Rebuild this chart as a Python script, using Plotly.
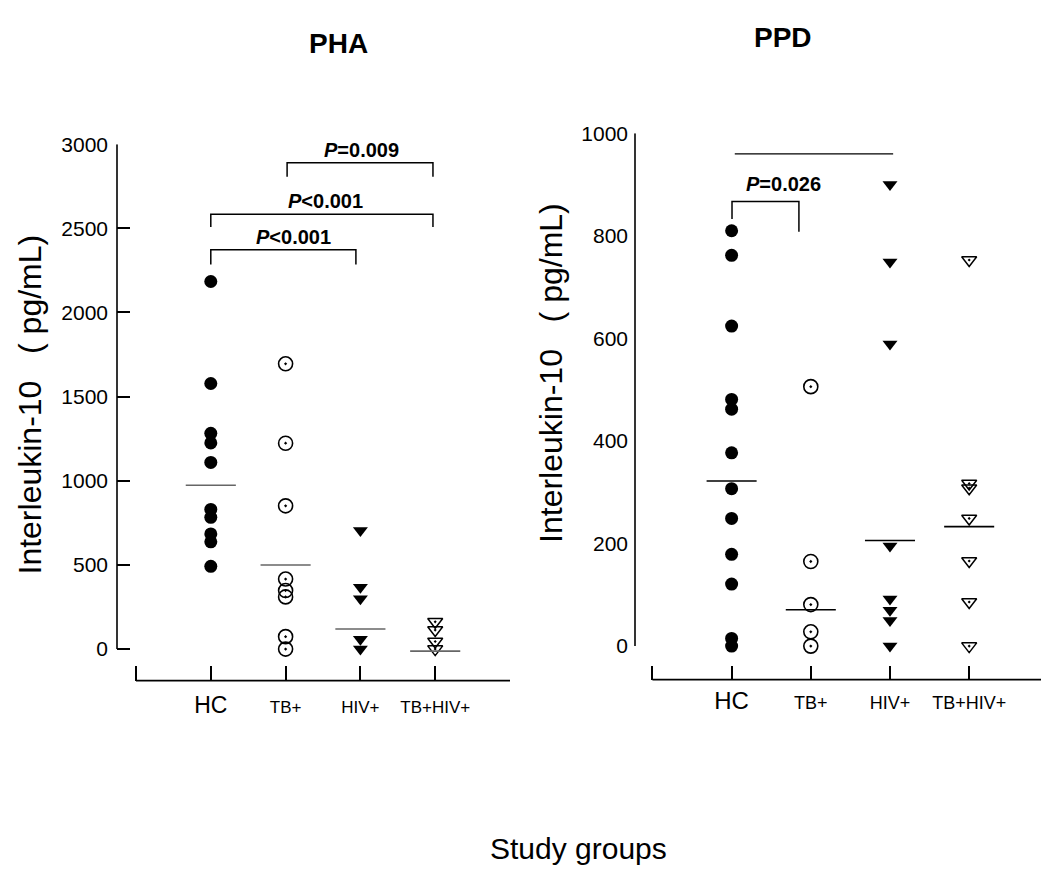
import plotly.graph_objects as go

W, H = 1041, 870

# ---------------- data ----------------
groups = ["HC", "TB+", "HIV+", "TB+HIV+"]
group_pos = [1, 2, 3, 4]

pha_hc = [2184, 1578, 1282, 1225, 1109, 830, 783, 684, 637, 492]
pha_tb = [1695, 1223, 851, 416, 348, 310, 74, 0]
pha_hiv = [705, 367, 299, 59, 0]
pha_tbhiv = [162, 113, 45, 0]
pha_medians = [973, 500, 119, -12]

ppd_hc = [810, 762, 624, 481, 462, 377, 307, 249, 179, 121, 15, 0]
ppd_tb = [506, 165, 81, 28, 0]
ppd_hiv = [900, 749, 589, 195, 92, 70, 50, 0]
ppd_tbhiv = [753, 317, 308, 249, 166, 86, 0]
ppd_medians = [322, 71, 206, 233]

pha_ticks = [0, 500, 1000, 1500, 2000, 2500, 3000]
ppd_ticks = [0, 200, 400, 600, 800, 1000]

pha_pvalues = ["<i>P</i>&lt;0.001", "<i>P</i>&lt;0.001", "<i>P</i>=0.009"]
ppd_pvalues = ["<i>P</i>=0.026"]

y_title = "Interleukin-10\u00a0\u00a0\u00a0(\u00a0pg/mL)"

FONT = "Liberation Sans, Arial, Helvetica, sans-serif"

marker_styles = [
    dict(symbol="circle", size=13, color="black"),
    dict(symbol="circle-open-dot", size=14, color="black", line=dict(width=1.6, color="black")),
    dict(symbol="triangle-down", size=13, color="black"),
    dict(symbol="triangle-down-open-dot", size=13, color="black", line=dict(width=1.5, color="black")),
]

fig = go.Figure()

def add_panel(series, medians, xa, ya, half, med_color):
    for pos, vals, ms in zip(group_pos, series, marker_styles):
        fig.add_trace(go.Scatter(
            x=[pos] * len(vals), y=vals, mode="markers",
            marker=ms, xaxis=xa, yaxis=ya, showlegend=False, cliponaxis=False))
    mx, my = [], []
    for pos, m in zip(group_pos, medians):
        mx += [pos - half, pos + half, None]
        my += [m, m, None]
    fig.add_trace(go.Scatter(x=mx, y=my, mode="lines",
                             line=dict(color=med_color, width=1.6),
                             xaxis=xa, yaxis=ya, showlegend=False))

add_panel([pha_hc, pha_tb, pha_hiv, pha_tbhiv], pha_medians, "x", "y", 0.335, "#666666")
add_panel([ppd_hc, ppd_tb, ppd_hiv, ppd_tbhiv], ppd_medians, "x2", "y2", 0.316, "black")

def px_x(p):
    return p / W

def px_y(p):
    return 1 - p / H

big = lambda t, s: f"<span style='font-size:{s}px'>{t}</span>"

fig.update_layout(
    width=W, height=H,
    margin=dict(l=0, r=0, t=0, b=0),
    paper_bgcolor="white", plot_bgcolor="white",
    font=dict(family=FONT, color="black", size=18),
    xaxis=dict(domain=[px_x(117), px_x(510)], range=[-0.254, 5],
               tickvals=[0] + group_pos + [5],
               ticktext=[""] + [big(groups[0], 23)] + groups[1:] + [""],
               ticks="inside", ticklen=15, tickwidth=1.5, tickcolor="black",
               showline=False, showgrid=False, zeroline=False,
               tickfont=dict(size=17), ticklabelstandoff=14, anchor="y"),
    yaxis=dict(domain=[px_y(678), px_y(134)], range=[-187.5, 3000],
               tickvals=pha_ticks, ticks="inside", ticklen=13, tickwidth=1.5,
               tickcolor="black", showline=False, showgrid=False, zeroline=False,
               tickfont=dict(size=21), ticklabelstandoff=8, anchor="x"),
    xaxis2=dict(domain=[px_x(635), 1.0], range=[-0.22, 4.907],
                tickvals=[0] + group_pos,
                ticktext=[""] + [big(groups[0], 24)] + groups[1:],
                ticks="inside", ticklen=14, tickwidth=1.5, tickcolor="black",
                showline=False, showgrid=False, zeroline=False,
                tickfont=dict(size=18), ticklabelstandoff=10, anchor="y2"),
    yaxis2=dict(domain=[px_y(677), px_y(123)], range=[-65.4, 1000],
                tickvals=ppd_ticks, ticks="", showline=False, showgrid=False,
                zeroline=False, tickfont=dict(size=21), ticklabelstandoff=6,
                anchor="x2"),
)

line_style = dict(color="black", width=1.6)
shapes = [
    # axis lines
    dict(type="line", xref="x domain", yref="y", x0=0, x1=0, y0=0, y1=3000, line=line_style),
    dict(type="line", xref="x", yref="y domain", x0=0, x1=5, y0=0, y1=0, line=line_style),
    dict(type="line", xref="x2 domain", yref="y2", x0=0, x1=0, y0=0, y1=1000, line=line_style),
    dict(type="line", xref="x2", yref="y2 domain", x0=0, x1=4.907, y0=0, y1=0, line=line_style),
]

def bracket(xref, yref, xa, xb, ytop, yl, yr):
    return dict(type="path", xref=xref, yref=yref,
                path=f"M {xa},{yl} L {xa},{ytop} L {xb},{ytop} L {xb},{yr}",
                line=dict(color="black", width=1.5))

shapes += [
    bracket("x", "y", 1.0, 2.94, 2373, 2285, 2285),
    bracket("x", "y", 1.0, 3.97, 2584, 2508, 2508),
    bracket("x", "y", 2.02, 3.97, 2889, 2807, 2807),
    bracket("x2", "y2", 1.005, 1.85, 867, 833, 808),
    dict(type="line", xref="x2", yref="y2", x0=1.04, x1=3.04, y0=960, y1=960,
         line=dict(color="black", width=1.3)),
]
fig.update_layout(shapes=shapes)

ann = []
for (xv, yv), txt in zip([(2.10, 2449), (2.53, 2660), (3.02, 2965)], pha_pvalues):
    ann.append(dict(x=xv, y=yv, xref="x", yref="y", text=f"<b>{txt}</b>", showarrow=False,
                    xanchor="center", yanchor="middle", font=dict(size=20)))
ann.append(dict(x=1.65, y=902, xref="x2", yref="y2", text=f"<b>{ppd_pvalues[0]}</b>",
                showarrow=False, xanchor="center", yanchor="middle", font=dict(size=20)))

common = dict(xref="paper", yref="paper", showarrow=False, xanchor="center", yanchor="middle")
ann += [
    dict(x=px_x(338), y=px_y(32), text="<b>PHA</b>", font=dict(size=28), **common),
    dict(x=px_x(783), y=px_y(26), text="<b>PPD</b>", font=dict(size=28), **common),
    dict(x=px_x(578), y=px_y(848), text="Study groups", font=dict(size=30), **common),
    dict(x=px_x(30), y=px_y(398), text=y_title, textangle=-90, font=dict(size=32), **common),
    dict(x=px_x(551), y=px_y(366), text=y_title, textangle=-90, font=dict(size=32), **common),
]
fig.update_layout(annotations=ann)

fig.write_html("out.html")
